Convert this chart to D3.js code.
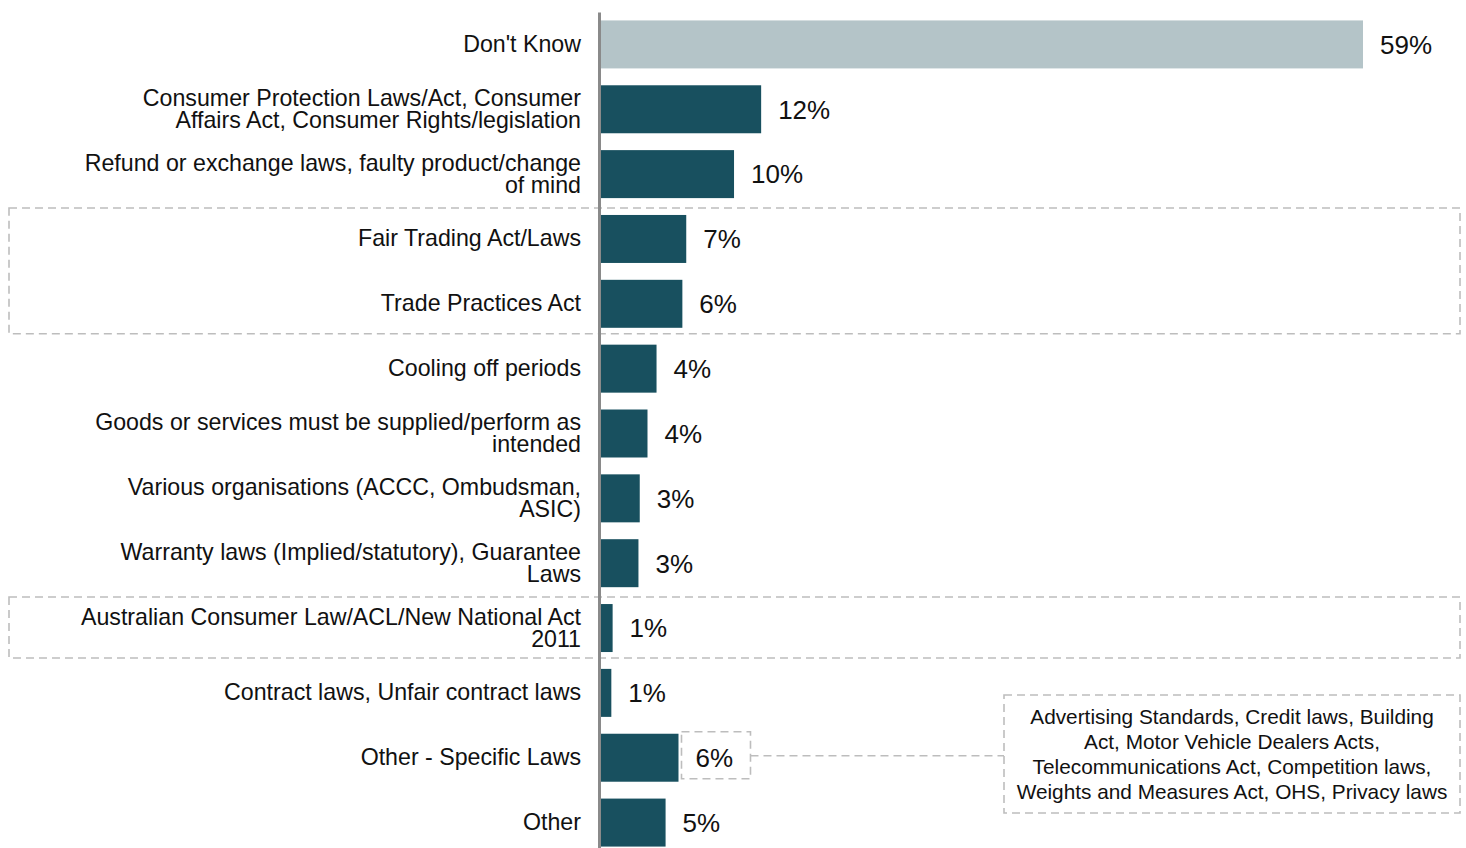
<!DOCTYPE html>
<html><head><meta charset="utf-8">
<script src="https://cdn.jsdelivr.net/npm/d3@7"></script>
<style>
html,body{margin:0;padding:0;background:#fff;}
svg{display:block;font-family:Arial,"Liberation Sans",sans-serif;}
</style></head>
<body>
<svg id="chart" width="1466" height="848"></svg>
<script>
const categories = [
  "Don't Know",
  "Consumer Protection Laws/Act, Consumer\nAffairs Act, Consumer Rights/legislation",
  "Refund or exchange laws, faulty product/change\nof mind",
  "Fair Trading Act/Laws",
  "Trade Practices Act",
  "Cooling off periods",
  "Goods or services must be supplied/perform as\nintended",
  "Various organisations (ACCC, Ombudsman,\nASIC)",
  "Warranty laws (Implied/statutory), Guarantee\nLaws",
  "Australian Consumer Law/ACL/New National Act\n2011",
  "Contract laws, Unfair contract laws",
  "Other - Specific Laws",
  "Other"
];
const values = [59, 12.4, 10.3, 6.6, 6.3, 4.3, 3.6, 3.0, 2.9, 0.9, 0.8, 6.0, 5.0];
const valueLabels = ["59%","12%","10%","7%","6%","4%","4%","3%","3%","1%","1%","6%","5%"];
const highlightGroups = [[3,4],[9]];
const annotatedIndex = 11;
const annotationLines = [
  "Advertising Standards, Credit laws, Building",
  "Act, Motor Vehicle Dealers Acts,",
  "Telecommunications Act, Competition laws,",
  "Weights and Measures Act, OHS, Privacy laws"
];

const svg = d3.select("#chart");
const x0 = 599;
const x = d3.scaleLinear().domain([0, 59]).range([x0 + 2, 1363]);
const y = d3.scaleBand().domain(categories).range([12, 855]).paddingInner(0.26).paddingOuter(0.13);
const bw = y.bandwidth();
const dash = "8,5";
const boxColor = "#bdbdbd";

// highlight boxes
highlightGroups.forEach(g => {
  const top = y(categories[g[0]]) - 7;
  const bot = y(categories[g[g.length-1]]) + bw + 6;
  svg.append("rect").attr("x", 9).attr("y", top).attr("width", 1451).attr("height", bot - top)
    .attr("fill", "none").attr("stroke", boxColor).attr("stroke-width", 1.6).attr("stroke-dasharray", dash);
});

// bars
svg.append("g").selectAll("rect").data(values).join("rect")
  .attr("x", x(0)).attr("y", (d,i) => y(categories[i]))
  .attr("width", d => x(d) - x(0)).attr("height", bw)
  .attr("fill", (d,i) => i === 0 ? "#b4c4c8" : "#18505f");

// value labels
svg.append("g").selectAll("text").data(values).join("text")
  .attr("x", d => x(d) + 17).attr("y", (d,i) => y(categories[i]) + bw/2)
  .attr("dy", "0.36em").attr("font-size", 26).attr("fill", "#111")
  .text((d,i) => valueLabels[i]);

// axis
const axis = svg.append("g").attr("transform", `translate(${x0},0)`)
  .call(d3.axisLeft(y).tickSize(0).tickPadding(18));
axis.select(".domain").attr("stroke", "#8a8a8a").attr("stroke-width", 3);
axis.selectAll(".tick text").each(function(d) {
  const t = d3.select(this);
  const lines = d.split("\n");
  t.text(null).attr("font-size", 23.2).attr("fill", "#111")
    .attr("font-family", 'Arial,"Liberation Sans",sans-serif').attr("dy", null);
  lines.forEach((ln, k) => {
    t.append("tspan").attr("x", -18)
      .attr("dy", k === 0 ? (7.5 - (lines.length-1)*11) : 22)
      .text(ln);
  });
});

// annotation for "Other - Specific Laws"
const aVal = values[annotatedIndex];
const aY = y(categories[annotatedIndex]);
const sbx = x(aVal) + 3, sby = aY - 2, sbw = 69, sbh = bw - 1;
svg.append("rect").attr("x", sbx).attr("y", sby).attr("width", sbw).attr("height", sbh)
  .attr("fill", "none").attr("stroke", boxColor).attr("stroke-width", 1.6).attr("stroke-dasharray", dash);
const abx = 1004, aby = 695, abw = 456, abh = 118;
svg.append("line").attr("x1", sbx + sbw).attr("x2", abx).attr("y1", aY + bw/2 - 2).attr("y2", aY + bw/2 - 2)
  .attr("stroke", boxColor).attr("stroke-width", 1.6).attr("stroke-dasharray", dash);
svg.append("rect").attr("x", abx).attr("y", aby).attr("width", abw).attr("height", abh)
  .attr("fill", "none").attr("stroke", boxColor).attr("stroke-width", 1.6).attr("stroke-dasharray", dash);
svg.append("g").selectAll("text").data(annotationLines).join("text")
  .attr("x", abx + abw/2).attr("y", (d,i) => aby + 22 + i*25)
  .attr("dy", "0.35em").attr("text-anchor", "middle").attr("font-size", 20.8).attr("fill", "#111")
  .text(d => d);
</script>
</body></html>
